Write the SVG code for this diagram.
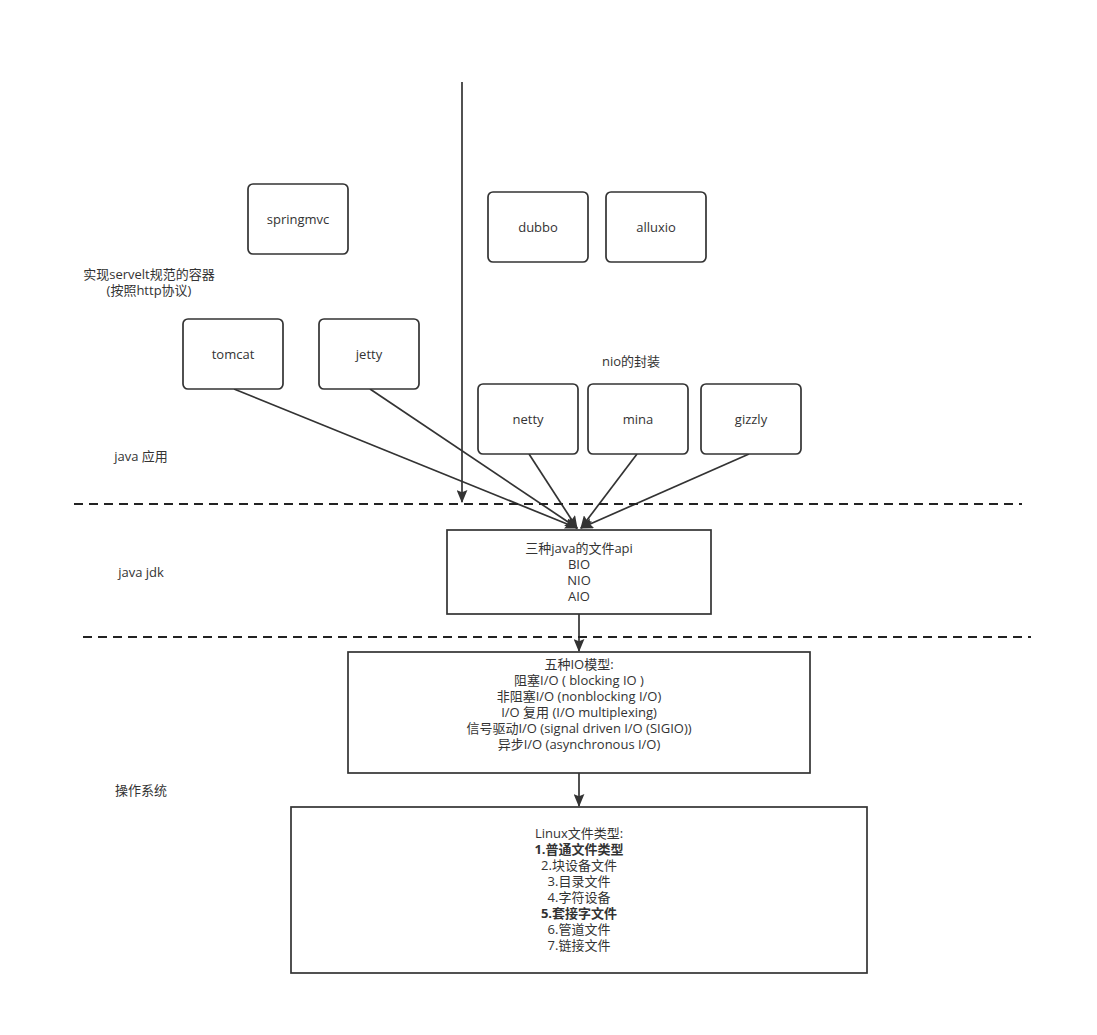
<svg xmlns="http://www.w3.org/2000/svg" width="1097" height="1035" viewBox="0 0 1097 1035">
<style>
text{font-family:"Open Sans","Noto Sans CJK SC",sans-serif;font-size:13px;fill:#333;text-anchor:middle}
.b{font-weight:bold}
.n{fill:#fff;stroke:#333;stroke-width:1.7}
.c{fill:none;stroke:#333;stroke-width:1.7}
.d{fill:none;stroke:#222;stroke-width:1.8;stroke-dasharray:9 6}
</style>
<defs>
<marker id="a" viewBox="0 0 12 10" refX="11" refY="5" markerWidth="13" markerHeight="11" markerUnits="userSpaceOnUse" orient="auto">
<path d="M0,0 L12,5 L0,10 L2,5 Z" fill="#333"/>
</marker>
</defs>
<rect width="1097" height="1035" fill="#fff"/>
<g id="connectors">
<line class="c" x1="462" y1="82" x2="462" y2="502" marker-end="url(#a)"/>
<line class="c" x1="234" y1="389" x2="577" y2="528" marker-end="url(#a)"/>
<line class="c" x1="370" y1="389" x2="577" y2="528" marker-end="url(#a)"/>
<line class="c" x1="529" y1="454" x2="577" y2="528" marker-end="url(#a)"/>
<line class="c" x1="637" y1="454" x2="581" y2="528" marker-end="url(#a)"/>
<line class="c" x1="749" y1="454" x2="581" y2="528" marker-end="url(#a)"/>
<line class="c" x1="579" y1="614" x2="579" y2="651" marker-end="url(#a)"/>
<line class="c" x1="579" y1="773" x2="579" y2="806" marker-end="url(#a)"/>
</g>
<g id="dividers">
<line class="d" x1="74" y1="504" x2="1022" y2="504"/>
<line class="d" x1="83" y1="637" x2="1031" y2="637"/>
</g>
<g id="springmvc"><rect class="n" x="248" y="184" width="100" height="70" rx="5"/><text x="298" y="224">springmvc</text></g>
<g id="dubbo"><rect class="n" x="488" y="192" width="100" height="70" rx="5"/><text x="538" y="232">dubbo</text></g>
<g id="alluxio"><rect class="n" x="606" y="192" width="100" height="70" rx="5"/><text x="656" y="232">alluxio</text></g>
<g id="tomcat"><rect class="n" x="183" y="319" width="100" height="70" rx="5"/><text x="233" y="359">tomcat</text></g>
<g id="jetty"><rect class="n" x="319" y="319" width="100" height="70" rx="5"/><text x="369" y="359">jetty</text></g>
<g id="netty"><rect class="n" x="478" y="384" width="100" height="70" rx="5"/><text x="528" y="424">netty</text></g>
<g id="mina"><rect class="n" x="588" y="384" width="100" height="70" rx="5"/><text x="638" y="424">mina</text></g>
<g id="gizzly"><rect class="n" x="701" y="384" width="100" height="70" rx="5"/><text x="751" y="424">gizzly</text></g>
<g id="servlet-label"><text x="149" y="279">实现servelt规范的容器</text><text x="149" y="295">(按照http协议)</text></g>
<g id="nio-label"><text x="631" y="366">nio的封装</text></g>
<g id="java-app-label"><text x="141" y="461">java 应用</text></g>
<g id="java-jdk-label"><text x="141" y="577">java jdk</text></g>
<g id="os-label"><text x="141" y="795">操作系统</text></g>
<g id="jdk">
<rect class="n" x="447" y="530" width="264" height="84"/>
<text x="579" y="553">三种java的文件api</text>
<text x="579" y="569">BIO</text>
<text x="579" y="585">NIO</text>
<text x="579" y="601">AIO</text>
</g>
<g id="io-models">
<rect class="n" x="348" y="652" width="462" height="121"/>
<text x="579" y="669">五种IO模型:</text>
<text x="579" y="685">阻塞I/O ( blocking IO )</text>
<text x="579" y="701">非阻塞I/O (nonblocking I/O)</text>
<text x="579" y="717">I/O 复用 (I/O multiplexing)</text>
<text x="579" y="733">信号驱动I/O (signal driven I/O (SIGIO))</text>
<text x="579" y="749">异步I/O (asynchronous I/O)</text>
</g>
<g id="linux-files">
<rect class="n" x="291" y="807" width="576" height="166"/>
<text x="579" y="838">Linux文件类型:</text>
<text x="579" y="854" class="b">1.普通文件类型</text>
<text x="579" y="870">2.块设备文件</text>
<text x="579" y="886">3.目录文件</text>
<text x="579" y="902">4.字符设备</text>
<text x="579" y="918" class="b">5.套接字文件</text>
<text x="579" y="934">6.管道文件</text>
<text x="579" y="950">7.链接文件</text>
</g>
</svg>
